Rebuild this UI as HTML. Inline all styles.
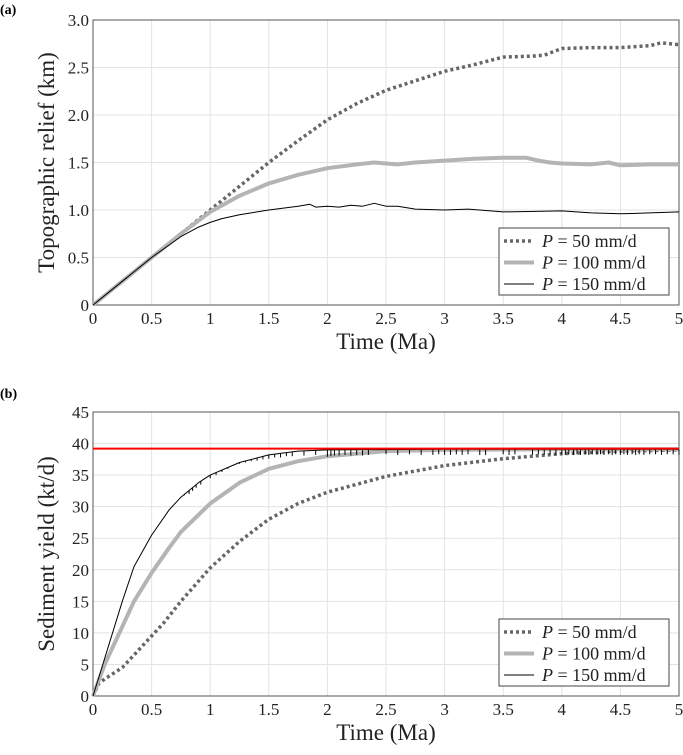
<!DOCTYPE html>
<html><head><meta charset="utf-8">
<style>
body{margin:0;background:#fff;}
svg text{font-family:"Liberation Serif",serif;}
</style></head>
<body>
<svg id="fig" width="683" height="750" xmlns="http://www.w3.org/2000/svg">
<text x="0" y="14" font-size="14" font-weight="bold">(a)</text>
<text x="0" y="398" font-size="14" font-weight="bold">(b)</text>
<g id="pa"></g>
<g id="pb"></g>
</svg>
<script>
const xTicks=[0,0.5,1,1.5,2,2.5,3,3.5,4,4.5,5];
const xTickLabels=["0","0.5","1","1.5","2","2.5","3","3.5","4","4.5","5"];
const aYTicks=[0,0.5,1,1.5,2,2.5,3];
const aYTickLabels=["0","0.5","1.0","1.5","2.0","2.5","3.0"];
const bYTicks=[0,5,10,15,20,25,30,35,40,45];
const bYTickLabels=["0","5","10","15","20","25","30","35","40","45"];
const seriesNames=["P = 50 mm/d","P = 100 mm/d","P = 150 mm/d"];
// panel a
const a50T=[0,0.25,0.5,0.75,1,1.25,1.5,1.75,2,2.25,2.5,2.75,3,3.25,3.5,3.75,3.85,4,4.25,4.5,4.75,4.85,5];
const a50V=[0,0.25,0.5,0.75,1.0,1.25,1.5,1.73,1.95,2.12,2.26,2.36,2.46,2.53,2.61,2.62,2.63,2.70,2.71,2.71,2.73,2.76,2.74];
const a100T=[0,0.25,0.5,0.75,1,1.25,1.5,1.75,2,2.25,2.4,2.5,2.6,2.75,3,3.25,3.5,3.7,3.8,3.9,4,4.25,4.4,4.5,4.75,5];
const a100V=[0,0.25,0.5,0.75,0.98,1.15,1.28,1.37,1.44,1.48,1.50,1.49,1.48,1.50,1.52,1.54,1.55,1.55,1.52,1.50,1.49,1.48,1.50,1.47,1.48,1.48];
const a150T=[0,0.25,0.5,0.75,0.9,1,1.1,1.25,1.5,1.75,1.85,1.9,2,2.1,2.2,2.3,2.4,2.5,2.6,2.75,3,3.2,3.5,4,4.25,4.5,4.75,5];
const a150V=[0,0.25,0.5,0.72,0.82,0.87,0.91,0.95,1.0,1.04,1.06,1.03,1.04,1.03,1.05,1.04,1.07,1.04,1.04,1.01,1.00,1.01,0.98,0.99,0.97,0.96,0.97,0.98];
// panel b
const b50T=[0,0.05,0.1,0.25,0.35,0.5,0.6,0.75,1,1.25,1.5,1.75,2,2.5,3,3.5,4,4.5,5];
const b50V=[0,2,2.7,4.5,6.5,9.5,11.5,15,20.3,24.5,28,30.5,32.3,34.8,36.5,37.6,38.4,38.8,39];
const b100T=[0,0.1,0.25,0.35,0.5,0.65,0.75,1,1.25,1.5,1.75,2,2.5,3,4,5];
const b100V=[0,5,11,15,19.5,23.5,26,30.5,33.8,36,37.2,38,38.8,39,39.1,39.1];
const b150T=[0,0.05,0.15,0.25,0.35,0.5,0.65,0.75,0.9,1,1.25,1.5,1.75,2,3,4,5];
const b150V=[0,3,9,15,20.5,25.5,29.5,31.5,33.8,35,37,38.2,38.8,39,39.1,39.1,39.1];
const spikeT=[0.75,0.78,0.82,0.85,0.88,0.92,1.0,1.05,1.1,1.15,1.2,1.25,1.3,1.35,1.4,1.45,1.5,1.55,1.6,1.65,1.7,1.8,1.9,2.0,2.03,2.06,2.1,2.15,2.2,2.25,2.3,2.35,2.5,2.6,2.7,2.8,2.9,2.95,3.0,3.05,3.1,3.15,3.2,3.3,3.35,3.5,3.55,3.6,3.75,3.8,3.85,3.9,3.95,4.0,4.03,4.06,4.1,4.13,4.16,4.2,4.23,4.26,4.3,4.33,4.36,4.4,4.43,4.46,4.5,4.53,4.56,4.6,4.63,4.66,4.7,4.75,4.8,4.85,4.9,4.95,5.0];
const spikeV=[31.5,31.8,32,32.5,33,33.5,34.5,35,35.5,36,36.5,36.8,37,37.2,37.3,37.5,37.6,37.8,37.8,38,38,38.1,38.2,37.9,38,38.1,38.1,38.2,38.1,38.2,38.1,38.2,38.3,38.2,38.3,38.2,38.2,38.3,38.2,38.2,38.3,38.2,38.3,38.2,38.2,38.3,38.2,38.3,38.2,38.3,38.2,38.3,38.2,38.3,38.2,38.3,38.2,38.3,38.2,38.3,38.2,38.3,38.2,38.3,38.2,38.3,38.2,38.3,38.2,38.3,38.2,38.3,38.2,38.3,38.2,38.3,38.3,38.2,38.3,38.3,38.2];
const refLine=39.2;

const NS="http://www.w3.org/2000/svg";
function mk(parent,tag,attrs){const e=document.createElementNS(NS,tag);for(const k in attrs)e.setAttribute(k,attrs[k]);parent.appendChild(e);return e;}
function interp(T,V,t){for(let i=1;i<T.length;i++){if(T[i]>=t){const f=(t-T[i-1])/(T[i]-T[i-1]);return V[i-1]+f*(V[i]-V[i-1]);}}return V[V.length-1];}

function drawPanel(g,top,bottom,ymax,yTicks,yLabels,yTitle,sets,extra,legendTop){
  const L=93,R=679;
  const sx=v=>L+(R-L)*v/5, sy=v=>bottom-(bottom-top)*v/ymax;
  xTicks.forEach((t,i)=>{
    const ln=mk(g,'line',{x1:sx(t),x2:sx(t),y1:top,y2:bottom,stroke:'#e3e3e3','stroke-width':1});
    
    
    const tk=mk(g,'text',{x:sx(t),y:bottom+19,'font-size':17,'text-anchor':'middle',fill:'#222'});
    tk.textContent=xTickLabels[i];
    
    
  });
  yTicks.forEach((t,i)=>{
    const ln=mk(g,'line',{x1:L,x2:R,y1:sy(t),y2:sy(t),stroke:'#e3e3e3','stroke-width':1});
    
    
    const tk=mk(g,'text',{x:L-4,y:sy(t)+6,'font-size':17,'text-anchor':'end',fill:'#222'});
    tk.textContent=yLabels[i];
    
    
  });
  const ax=mk(g,'rect',{x:L,y:top,width:R-L,height:bottom-top,fill:'none',stroke:'#555','stroke-width':1});
  
  
  const styles=[{stroke:'#666','stroke-width':3.5,'stroke-dasharray':'3 3'},{stroke:'#b4b4b4','stroke-width':4},{stroke:'#000','stroke-width':1}];
  const names=['series-p50','series-p100','series-p150'];
  sets.forEach((s,k)=>{
    const d=s[0].map((t,i)=>(i?'L':'M')+sx(t).toFixed(1)+','+sy(s[1][i]).toFixed(1)).join(' ');
    const p=mk(g,'path',Object.assign({d:d,fill:'none','stroke-linejoin':'round'},styles[k]));
    
    
  });
  if(extra) extra(g,sx,sy);
  const xt=mk(g,'text',{x:(L+R)/2,y:bottom+44,'font-size':23,'text-anchor':'middle',fill:'#222'});
  xt.textContent='Time (Ma)';
  
  
  const yt=mk(g,'text',{x:0,y:0,'font-size':23,'text-anchor':'middle',fill:'#222',transform:`translate(54,${(top+bottom)/2}) rotate(-90)`});
  yt.textContent=yTitle;
  
  
  const lg=mk(g,'g',{});
  
  
  mk(lg,'rect',{x:499,y:legendTop,width:170,height:67,fill:'#fff',stroke:'#444','stroke-width':1});
  seriesNames.forEach((n,k)=>{
    const y=legendTop+13+k*21.5;
    const ent=mk(lg,'g',{});
    
    
    mk(ent,'line',Object.assign({x1:504,x2:534,y1:y,y2:y},styles[k]));
    const t=mk(ent,'text',{x:542,y:y+6,'font-size':18,fill:'#222'});
    t.innerHTML='<tspan font-style="italic">P</tspan>'+n.slice(1);
  });
}

drawPanel(document.getElementById('pa'),20,305,3,aYTicks,aYTickLabels,'Topographic relief (km)',
  [[a50T,a50V],[a100T,a100V],[a150T,a150V]],null,228);
drawPanel(document.getElementById('pb'),412,696,45,bYTicks,bYTickLabels,'Sediment yield (kt/d)',
  [[b50T,b50V],[b100T,b100V],[b150T,b150V]],
  function(g,sx,sy){
    spikeT.forEach((t,i)=>{
      const base=interp(b150T,b150V,t);
      const s=mk(g,'line',{x1:sx(t),x2:sx(t),y1:sy(base),y2:sy(spikeV[i]),stroke:'#000','stroke-width':1});
      
      
    });
    const r=mk(g,'line',{x1:sx(0),x2:sx(5),y1:sy(refLine),y2:sy(refLine),stroke:'#f00','stroke-width':2});
    
    
  },619);
</script>
</body></html>
